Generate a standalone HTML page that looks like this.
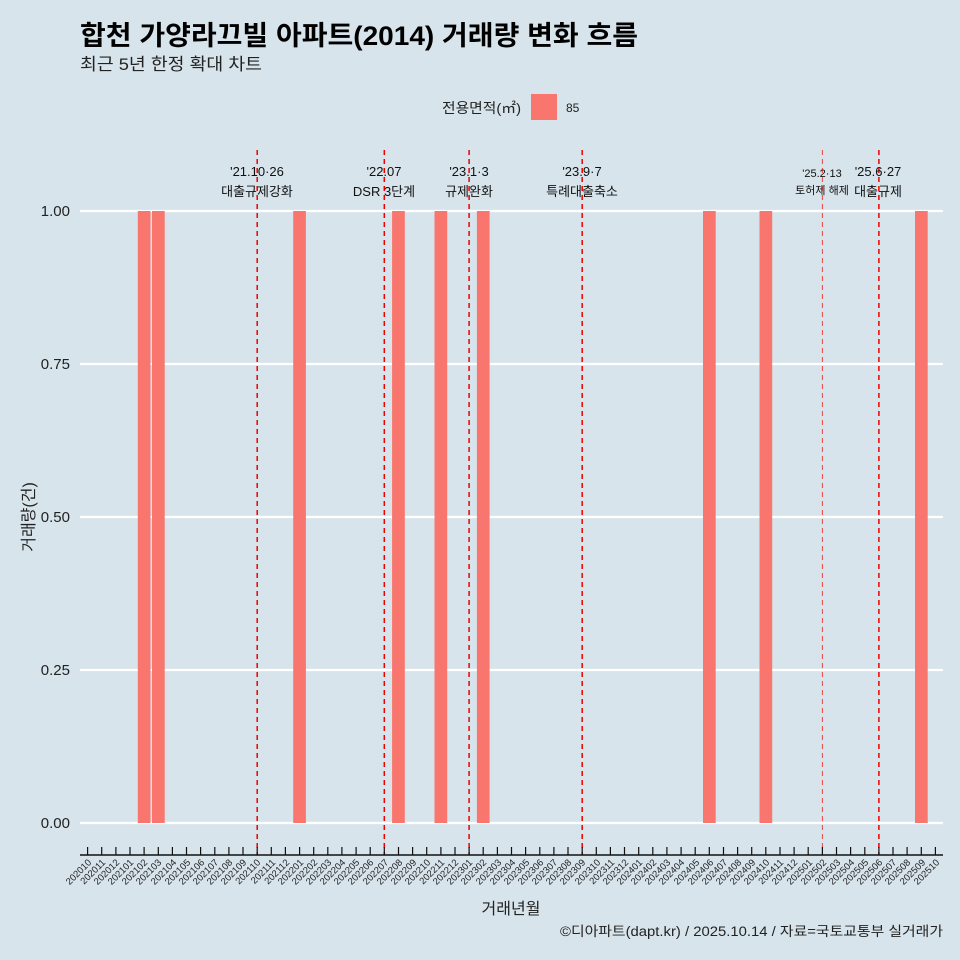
<!DOCTYPE html>
<html><head><meta charset="utf-8"><style>
html,body{margin:0;padding:0;background:#d7e4eb;}
svg{display:block;font-family:"Liberation Sans","Noto Sans CJK KR",sans-serif;}
</style></head><body>
<svg width="960" height="960" viewBox="0 0 960 960">
<rect width="960" height="960" fill="#d7e4eb"/>
<text x="80" y="45" font-size="27" font-weight="bold" fill="#000" textLength="558" lengthAdjust="spacingAndGlyphs">합천 가양라끄빌 아파트(2014) 거래량 변화 흐름</text>
<text x="80" y="70" font-size="17" fill="#222" textLength="182" lengthAdjust="spacingAndGlyphs">최근 5년 한정 확대 차트</text>
<text x="442" y="113" font-size="14" fill="#222" textLength="79" lengthAdjust="spacingAndGlyphs">전용면적(㎡)</text>
<rect x="531" y="94" width="26" height="26" fill="#f8766d"/>
<text x="566" y="112" font-size="12" fill="#222">85</text>
<g stroke="#fff" stroke-width="2.2">
<line x1="80" x2="943" y1="211" y2="211"/><line x1="80" x2="943" y1="364" y2="364"/>
<line x1="80" x2="943" y1="517" y2="517"/><line x1="80" x2="943" y1="670" y2="670"/>
<line x1="80" x2="943" y1="823" y2="823"/>
</g>
<g font-size="15" fill="#222" text-anchor="end">
<text x="70" y="216">1.00</text><text x="70" y="369">0.75</text><text x="70" y="522">0.50</text><text x="70" y="675">0.25</text><text x="70" y="828">0.00</text>
</g>
<text transform="translate(34,517) rotate(-90)" font-size="16" fill="#222" text-anchor="middle">거래량(건)</text>
<g fill="#f8766d">
<rect x="137.8" y="211" width="12.7" height="612"/><rect x="152" y="211" width="12.7" height="612"/>
<rect x="293.2" y="211" width="12.7" height="612"/><rect x="392.1" y="211" width="12.7" height="612"/>
<rect x="434.5" y="211" width="12.7" height="612"/><rect x="476.9" y="211" width="12.7" height="612"/>
<rect x="703" y="211" width="12.7" height="612"/><rect x="759.5" y="211" width="12.7" height="612"/>
<rect x="915" y="211" width="12.7" height="612"/>
</g>
<g stroke="#e00" stroke-width="1.5" stroke-dasharray="5,4">
<line x1="257.2" x2="257.2" y1="150" y2="855"/><line x1="384.3" x2="384.3" y1="150" y2="855"/>
<line x1="469.1" x2="469.1" y1="150" y2="855"/><line x1="582.2" x2="582.2" y1="150" y2="855"/>
<line x1="878.9" x2="878.9" y1="150" y2="855"/>
<line x1="822.4" x2="822.4" y1="150" y2="855" stroke-width="1" stroke="#e44"/>
</g>
<g font-size="13" fill="#111" text-anchor="middle">
<text x="257" y="176">'21.10·26</text><text x="257" y="196">대출규제강화</text>
<text x="384" y="176">'22.07</text><text x="384" y="196">DSR 3단계</text>
<text x="469" y="176">'23.1·3</text><text x="469" y="196">규제완화</text>
<text x="582" y="176">'23.9·7</text><text x="582" y="196">특례대출축소</text>
<text x="878" y="176">'25.6·27</text><text x="878" y="196">대출규제</text>
</g>
<g font-size="11" fill="#111" text-anchor="middle">
<text x="822" y="177">'25.2·13</text><text x="822" y="194">토허제 해제</text>
</g>
<line x1="80" x2="943" y1="855" y2="855" stroke="#111" stroke-width="1.5"/>
<g stroke="#111" stroke-width="1.2">
<path d="M87.6 847V855M101.7 847V855M115.9 847V855M130 847V855M144.1 847V855M158.3 847V855M172.4 847V855M186.5 847V855M200.6 847V855M214.8 847V855M228.9 847V855M243 847V855M257.2 847V855M271.3 847V855M285.4 847V855M299.6 847V855M313.7 847V855M327.8 847V855M341.9 847V855M356.1 847V855M370.2 847V855M384.3 847V855M398.5 847V855M412.6 847V855M426.7 847V855M440.9 847V855M455 847V855M469.1 847V855M483.2 847V855M497.4 847V855M511.5 847V855M525.6 847V855M539.8 847V855M553.9 847V855M568 847V855M582.2 847V855M596.3 847V855M610.4 847V855M624.5 847V855M638.7 847V855M652.8 847V855M666.9 847V855M681.1 847V855M695.2 847V855M709.3 847V855M723.5 847V855M737.6 847V855M751.7 847V855M765.8 847V855M780 847V855M794.1 847V855M808.2 847V855M822.4 847V855M836.5 847V855M850.6 847V855M864.8 847V855M878.9 847V855M893 847V855M907.1 847V855M921.3 847V855M935.4 847V855"/>
</g>
<g font-size="9.5" fill="#222" text-anchor="end">
<text transform="translate(92,863) rotate(-45)">202010</text>
<text transform="translate(106,863) rotate(-45)">202011</text>
<text transform="translate(120,863) rotate(-45)">202012</text>
<text transform="translate(134,863) rotate(-45)">202101</text>
<text transform="translate(148,863) rotate(-45)">202102</text>
<text transform="translate(162,863) rotate(-45)">202103</text>
<text transform="translate(177,863) rotate(-45)">202104</text>
<text transform="translate(191,863) rotate(-45)">202105</text>
<text transform="translate(205,863) rotate(-45)">202106</text>
<text transform="translate(219,863) rotate(-45)">202107</text>
<text transform="translate(233,863) rotate(-45)">202108</text>
<text transform="translate(247,863) rotate(-45)">202109</text>
<text transform="translate(261,863) rotate(-45)">202110</text>
<text transform="translate(276,863) rotate(-45)">202111</text>
<text transform="translate(290,863) rotate(-45)">202112</text>
<text transform="translate(304,863) rotate(-45)">202201</text>
<text transform="translate(318,863) rotate(-45)">202202</text>
<text transform="translate(332,863) rotate(-45)">202203</text>
<text transform="translate(346,863) rotate(-45)">202204</text>
<text transform="translate(360,863) rotate(-45)">202205</text>
<text transform="translate(374,863) rotate(-45)">202206</text>
<text transform="translate(389,863) rotate(-45)">202207</text>
<text transform="translate(403,863) rotate(-45)">202208</text>
<text transform="translate(417,863) rotate(-45)">202209</text>
<text transform="translate(431,863) rotate(-45)">202210</text>
<text transform="translate(445,863) rotate(-45)">202211</text>
<text transform="translate(459,863) rotate(-45)">202212</text>
<text transform="translate(473,863) rotate(-45)">202301</text>
<text transform="translate(487,863) rotate(-45)">202302</text>
<text transform="translate(502,863) rotate(-45)">202303</text>
<text transform="translate(516,863) rotate(-45)">202304</text>
<text transform="translate(530,863) rotate(-45)">202305</text>
<text transform="translate(544,863) rotate(-45)">202306</text>
<text transform="translate(558,863) rotate(-45)">202307</text>
<text transform="translate(572,863) rotate(-45)">202308</text>
<text transform="translate(586,863) rotate(-45)">202309</text>
<text transform="translate(601,863) rotate(-45)">202310</text>
<text transform="translate(615,863) rotate(-45)">202311</text>
<text transform="translate(629,863) rotate(-45)">202312</text>
<text transform="translate(643,863) rotate(-45)">202401</text>
<text transform="translate(657,863) rotate(-45)">202402</text>
<text transform="translate(671,863) rotate(-45)">202403</text>
<text transform="translate(685,863) rotate(-45)">202404</text>
<text transform="translate(700,863) rotate(-45)">202405</text>
<text transform="translate(714,863) rotate(-45)">202406</text>
<text transform="translate(728,863) rotate(-45)">202407</text>
<text transform="translate(742,863) rotate(-45)">202408</text>
<text transform="translate(756,863) rotate(-45)">202409</text>
<text transform="translate(770,863) rotate(-45)">202410</text>
<text transform="translate(784,863) rotate(-45)">202411</text>
<text transform="translate(798,863) rotate(-45)">202412</text>
<text transform="translate(813,863) rotate(-45)">202501</text>
<text transform="translate(827,863) rotate(-45)">202502</text>
<text transform="translate(841,863) rotate(-45)">202503</text>
<text transform="translate(855,863) rotate(-45)">202504</text>
<text transform="translate(869,863) rotate(-45)">202505</text>
<text transform="translate(883,863) rotate(-45)">202506</text>
<text transform="translate(897,863) rotate(-45)">202507</text>
<text transform="translate(911,863) rotate(-45)">202508</text>
<text transform="translate(926,863) rotate(-45)">202509</text>
<text transform="translate(940,863) rotate(-45)">202510</text>
</g>
<text x="511" y="914" font-size="16" fill="#222" text-anchor="middle">거래년월</text>
<text x="943" y="936" font-size="13.5" fill="#222" text-anchor="end" textLength="383" lengthAdjust="spacingAndGlyphs">©디아파트(dapt.kr) / 2025.10.14 / 자료=국토교통부 실거래가</text>
</svg>
</body></html>
